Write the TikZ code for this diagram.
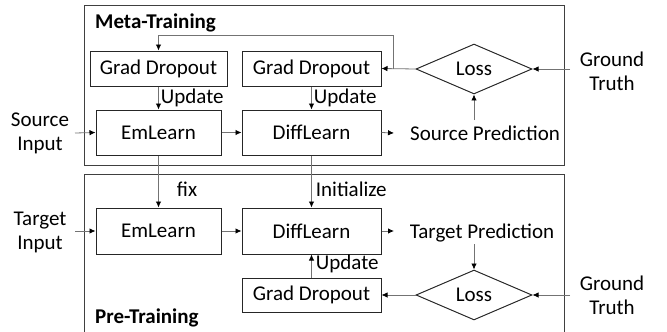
\documentclass[tikz,border=0pt]{standalone}
\usepackage{fontspec}
\setmainfont{Carlito}
\usetikzlibrary{arrows.meta,shapes.geometric}
\tikzset{
  txt/.style={font=\fontsize{21}{24}\selectfont, inner sep=0pt, align=center},
  blk/.style={draw=black!85, line width=1pt, rectangle, txt},
  lossd/.style={draw=black!85, line width=1pt, diamond, txt, minimum width=116pt, minimum height=46pt},
  frame/.style={draw=black!75, line width=1pt},
  arr/.style={draw=black!55, line width=0.8pt, -{Latex[length=6pt,width=5.5pt,color=black]}},
  lbl/.style={font=\fontsize{21}{24}\bfseries\selectfont, inner sep=0pt, anchor=west}
}
\begin{document}
\begin{tikzpicture}[x=1pt,y=-1pt]
\useasboundingbox (0,0) rectangle (667,332);
% frames
\draw[frame] (84,5) rectangle (564,165);
\draw[frame] (84,174) -- (564,174) -- (564,334);
\draw[frame] (84,174) -- (84,334);
\node[lbl] (mt) at (95,23) {Meta-Training};
\node[lbl] (pt) at (95,318) {Pre-Training};
% top row
\node[blk, minimum width=137pt, minimum height=35pt] (gd1) at (158.5,68.5) {Grad Dropout};
\node[blk, minimum width=139pt, minimum height=35pt] (gd2) at (311.5,68.5) {Grad Dropout};
\node[blk, minimum width=125pt, minimum height=45pt] (em1) at (158.5,132.5) {EmLearn};
\node[blk, minimum width=139pt, minimum height=45pt] (df1) at (311.5,132.5) {DiffLearn};
\node[lossd] (loss1) at (474,69) {Loss};
\node[txt] (sp) at (485,133) {Source Prediction};
\node[txt] (gt1) at (612,71) {Ground\\Truth};
\node[txt] (si) at (40,133) {Source\\Input};
% bottom row
\node[blk, minimum width=125pt, minimum height=46pt] (em2) at (158.5,231) {EmLearn};
\node[blk, minimum width=139pt, minimum height=46pt] (df2) at (311.5,231) {DiffLearn};
\node[txt] (tp) at (482,233) {Target Prediction};
\node[lossd] (loss2) at (474,295) {Loss};
\node[blk, minimum width=139pt, minimum height=34pt] (gd3) at (311.5,295) {Grad Dropout};
\node[txt] (gt2) at (612,295) {Ground\\Truth};
\node[txt] (ti) at (40,232) {Target\\Input};
% coordinates for free ends
\coordinate (siE) at (75,133);
\coordinate (tiE) at (75,231);
\coordinate (gt1W) at (570,69);
\coordinate (gt2W) at (570,295);
\coordinate (spW) at (394,133);
\coordinate (spN) at (474,120);
\coordinate (tpW) at (394,231);
\coordinate (tpS) at (474,244);
\coordinate (fb) at (393,69);
\coordinate (fbtop) at (393,35);
% top arrows
\draw[arr] (siE) -- (em1.west);
\draw[arr] (em1.east) -- (df1.west);
\draw[arr] (df1.east) -- (spW);
\draw[arr] (spN) -- (loss1.south);
\draw[arr] (gt1W) -- (loss1.east);
\draw[arr] (loss1.west) -- (gd2.east);
\draw[arr] (fb) -- (fbtop) -| (gd1.north);
\draw[arr] (gd1.south) -- node[txt, anchor=west, xshift=2pt] (u1) {Update} (em1.north);
\draw[arr] (gd2.south) -- node[txt, anchor=west, xshift=2pt] (u2) {Update} (df1.north);
% between
\draw[arr] (em1.south) -- node[txt, anchor=west, xshift=18pt, yshift=-5pt, pos=0.55] (fx) {fix} (em2.north);
\draw[arr] (df1.south) -- node[txt, anchor=west, xshift=4pt, yshift=-5pt, pos=0.55] (ini) {Initialize} (df2.north);
% bottom arrows
\draw[arr] (tiE) -- (em2.west);
\draw[arr] (em2.east) -- (df2.west);
\draw[arr] (df2.east) -- (tpW);
\draw[arr] (tpS) -- (loss2.north);
\draw[arr] (gt2W) -- (loss2.east);
\draw[arr] (loss2.west) -- (gd3.east);
\draw[arr] (gd3.north) -- node[txt, anchor=west, xshift=4pt, yshift=2pt] (u3) {Update} (df2.south);
\end{tikzpicture}
\end{document}
